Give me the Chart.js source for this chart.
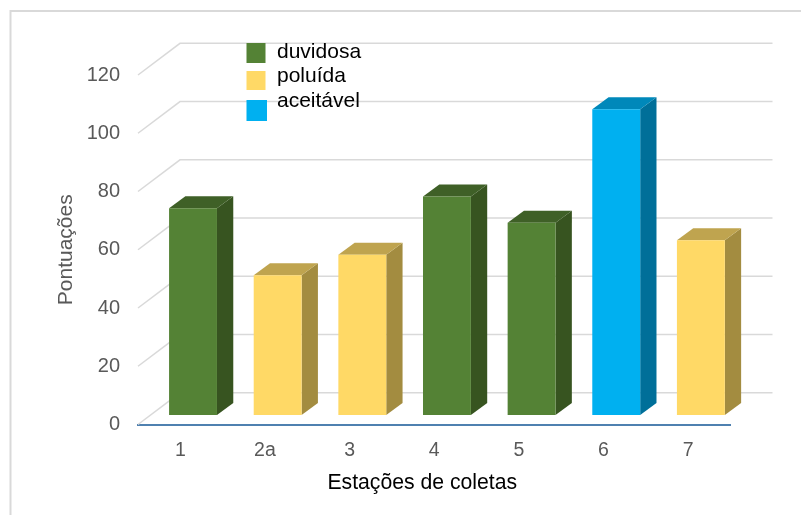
<!DOCTYPE html>
<html><head><meta charset="utf-8">
<style>html,body{margin:0;padding:0;background:#fff}canvas{display:block}</style>
<script src="https://cdn.jsdelivr.net/npm/chart.js@4"></script>
</head><body><canvas id="c" width="801" height="515"></canvas>
<script>
const categories = ['1','2a','3','4','5','6','7'];
const duvidosa = [71,null,null,75,66,null,null];
const poluida  = [null,48,55,null,null,null,60];
const aceitavel= [null,null,null,null,null,105,null];
const seriesNames = ['duvidosa','poluída','aceitável'];
const FACE = ['#548235','#FFD966','#00B0F0'];
const SIDE = ['#375420','#A38C40','#006F99'];
const TOP  = ['#3F6027','#BFA44F','#0088BA'];
const FONT = '"Liberation Sans", Arial, sans-serif';
const WALL = {dx:42, dy:-31.7};
const SHIFT = {dx:12.7, dy:-9.5};
const DEPTH = {dx:16.3, dy:-12};
const LEGEND_BOXES = [[246.5,43,19,20],[246.5,71,19,19],[246.5,100,20.5,21]];
const LEGEND_TEXT_Y = [52,76.5,101];

const scene = {
  id:'scene',
  beforeDraw(chart){
    const c=chart.ctx;
    c.save();
    c.fillStyle='#fff';c.fillRect(0,0,801,515);
    c.strokeStyle='#D9D9D9';c.lineWidth=2;
    c.beginPath();c.moveTo(10.5,515);c.lineTo(10.5,11);c.lineTo(801,11);c.stroke();
    c.restore();
    const xs=chart.scales.x;
    if(!xs._shifted){
      xs._shifted=true;
      const orig=xs.drawTitle;
      xs.drawTitle=function(){c.save();c.translate(-12,0);orig.apply(this,arguments);c.restore();};
    }
  },
  beforeDatasetsDraw(chart){
    const c=chart.ctx,{left,right}=chart.chartArea,y=chart.scales.y;
    c.save();
    c.strokeStyle='#D9D9D9';c.lineWidth=1.5;
    y.ticks.forEach(t=>{
      const p=y.getPixelForValue(t.value);
      c.beginPath();c.moveTo(left,p);c.lineTo(left+WALL.dx,p+WALL.dy);
      c.lineTo(right+WALL.dx,p+WALL.dy);c.stroke();
    });
    c.restore();
    c.save();
    c.translate(SHIFT.dx,SHIFT.dy);
    chart.data.datasets.forEach((ds,i)=>{
      chart.getDatasetMeta(i).data.forEach((b,j)=>{
        if(ds.data[j]==null)return;
        const {x,y:top,base,width}=b.getProps(['x','y','base','width'],true);
        const l=x-width/2,r=x+width/2;
        c.fillStyle=SIDE[i];
        c.beginPath();c.moveTo(r,top);c.lineTo(r+DEPTH.dx,top+DEPTH.dy);
        c.lineTo(r+DEPTH.dx,base+DEPTH.dy);c.lineTo(r,base);c.closePath();c.fill();
        c.fillStyle=TOP[i];
        c.beginPath();c.moveTo(l,top);c.lineTo(l+DEPTH.dx,top+DEPTH.dy);
        c.lineTo(r+DEPTH.dx,top+DEPTH.dy);c.lineTo(r,top);c.closePath();c.fill();
      });
    });
  },
  afterDatasetsDraw(chart){
    const c=chart.ctx;
    c.restore();
    c.save();
    chart.data.datasets.forEach((ds,i)=>{
      const [bx,by,bw,bh]=LEGEND_BOXES[i];
      c.fillStyle=FACE[i];c.fillRect(bx,by,bw,bh);
      c.fillStyle='#000';c.font='21px '+FONT;c.textBaseline='middle';c.textAlign='left';
      c.fillText(ds.label,277,LEGEND_TEXT_Y[i]);
    });
    c.restore();
  }
};

new Chart(document.getElementById('c'),{
  type:'bar',
  plugins:[scene],
  data:{labels:categories,datasets:[
    {label:seriesNames[0],data:duvidosa,backgroundColor:FACE[0]},
    {label:seriesNames[1],data:poluida,backgroundColor:FACE[1]},
    {label:seriesNames[2],data:aceitavel,backgroundColor:FACE[2]}
  ]},
  options:{
    responsive:false,animation:false,devicePixelRatio:1,
    layout:{padding:{left:0,top:75,right:70.5,bottom:0}},
    datasets:{bar:{barPercentage:0.566,categoryPercentage:1}},
    plugins:{legend:{display:false},tooltip:{enabled:false},title:{display:false}},
    scales:{
      x:{stacked:true,
        afterFit:s=>{s.height=90.5;},
        grid:{display:false,drawTicks:false},
        border:{display:true,color:'#4F81B0',width:2},
        ticks:{color:'#595959',font:{family:FONT,size:19.5},padding:14,maxRotation:0},
        title:{display:true,text:'Estações de coletas',color:'#000',font:{family:FONT,size:21.2},padding:{top:0,bottom:19}}
      },
      y:{stacked:true,min:0,max:120,
        afterFit:s=>{s.width=138;},
        grid:{display:false,drawTicks:false},
        border:{display:false},
        ticks:{stepSize:20,color:'#595959',font:{family:FONT,size:20},padding:18},
        title:{display:true,text:'Pontuações',color:'#595959',font:{family:FONT,size:21},padding:{top:54,bottom:0}}
      }
    }
  }
});
</script></body></html>
